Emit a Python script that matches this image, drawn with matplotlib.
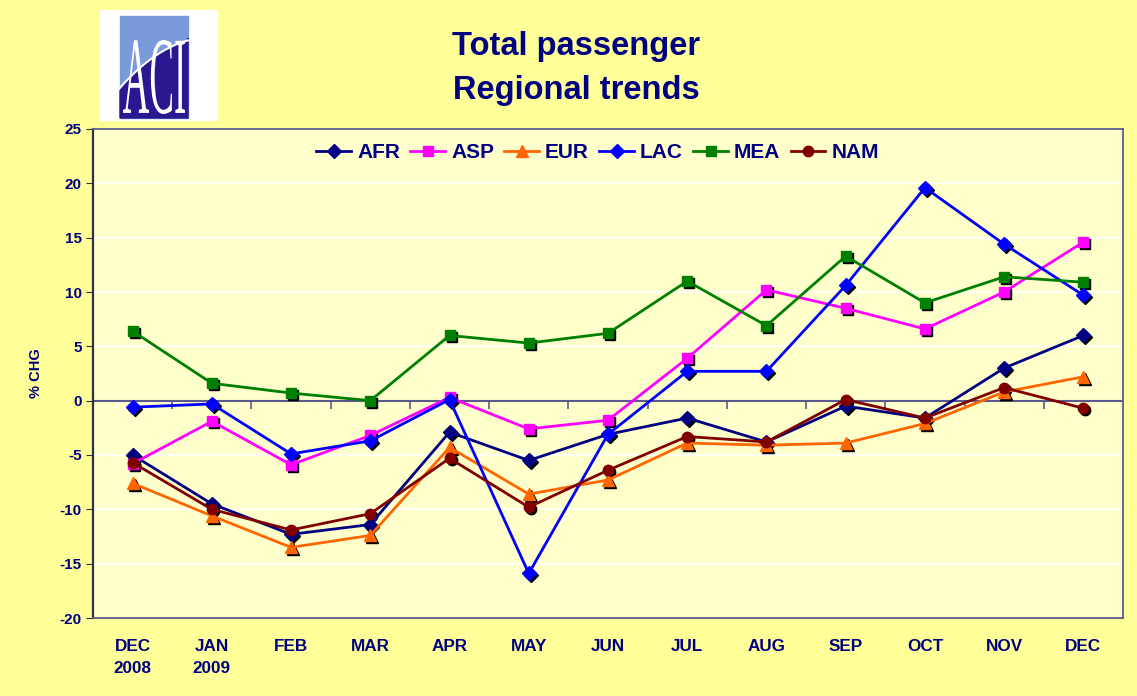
import numpy as np
import matplotlib
matplotlib.use("Agg")
import matplotlib.pyplot as plt
import matplotlib.transforms as mtransforms
from matplotlib.patches import Rectangle, Polygon, PathPatch
from matplotlib.textpath import TextPath
from matplotlib.font_manager import FontProperties

plt.rcParams['font.family'] = ['Liberation Sans', 'DejaVu Sans']

# ---------------- data ----------------
months = ["DEC\n2008", "JAN\n2009", "FEB", "MAR", "APR", "MAY", "JUN",
          "JUL", "AUG", "SEP", "OCT", "NOV", "DEC"]
AFR = [-5.0, -9.5, -12.3, -11.4, -2.9, -5.5, -3.1, -1.6, -3.8, -0.5, -1.6, 3.0, 6.0]
ASP = [-5.8, -1.9, -5.9, -3.2, 0.3, -2.6, -1.8, 3.9, 10.2, 8.5, 6.6, 10.0, 14.6]
EUR = [-7.6, -10.6, -13.5, -12.4, -4.3, -8.6, -7.3, -3.9, -4.1, -3.9, -2.1, 0.8, 2.2]
LAC = [-0.6, -0.3, -4.9, -3.7, 0.1, -15.9, -3.1, 2.7, 2.7, 10.6, 19.6, 14.4, 9.7]
MEA = [6.4, 1.6, 0.7, 0.0, 6.0, 5.3, 6.2, 11.0, 6.9, 13.3, 9.0, 11.4, 10.9]
NAM = [-5.7, -10.0, -11.9, -10.4, -5.3, -9.8, -6.4, -3.3, -3.8, 0.1, -1.6, 1.2, -0.7]
series_names = ["AFR", "ASP", "EUR", "LAC", "MEA", "NAM"]
series_vals = [AFR, ASP, EUR, LAC, MEA, NAM]
colors = ["#000080", "#FF00FF", "#FF6600", "#0000FF", "#008000", "#800000"]
markers = ["D", "s", "^", "D", "s", "o"]
msizes = [7, 7.5, 8, 7, 7.5, 7.5]
yticks = list(range(-20, 30, 5))

NAVY = "#000080"
W, H = 1137, 696
fig = plt.figure(figsize=(W / 100, H / 100), dpi=100, facecolor="#FFFF99")

ax = fig.add_axes([93 / W, 1 - 618 / H, 1030 / W, 489 / H])
ax.set_facecolor("#FFFFCC")
x = np.arange(len(months))
ax.set_xlim(-0.5, len(months) - 0.5)
ax.set_ylim(-20, 25)

shadow = mtransforms.offset_copy(ax.transData, fig=fig, x=2, y=-2, units="dots")
handles = []
for name, vals, c, m, ms in zip(series_names, series_vals, colors, markers, msizes):
    ax.plot(x, vals, linestyle="none", marker=m, markersize=ms, color="black",
            transform=shadow, zorder=3)
    h, = ax.plot(x, vals, color=c, lw=2.0, marker=m, markersize=ms,
                 markerfacecolor=c, markeredgecolor=c, zorder=4, label=name)
    handles.append(h)

# grid & axes
ax.set_yticks(yticks)
ax.set_yticklabels([str(v) for v in yticks], fontsize=11, fontweight="bold", color=NAVY)
ax.yaxis.grid(True, color="white", lw=1.2)
ax.set_axisbelow(True)
ax.tick_params(axis="y", direction="out", length=5, color="#303040", pad=3)
ax.set_xticks(x)
ax.set_xticklabels(months, fontsize=12.3, fontweight="bold", color=NAVY, linespacing=1.6)
ax.tick_params(axis="x", length=0, pad=15)
for s in ax.spines.values():
    s.set_color("#5a5a8c")
    s.set_linewidth(1.3)
ax.spines["left"].set_color("#303040")
ax.spines["left"].set_linewidth(1.6)

# zero axis with category-boundary ticks
ax.axhline(0, color="#5a5a8c", lw=1.5, zorder=2)
zero_frac = (0 - (-20)) / 45.0
sec = ax.secondary_xaxis(zero_frac)
sec.set_xticks(np.arange(0.5, len(months) - 1, 1.0))
sec.set_xticklabels([])
sec.tick_params(axis="x", direction="out", length=6, color="#5a5a8c", width=1.2)
sec.spines["bottom"].set_visible(False)

ax.set_ylabel("% CHG", fontsize=10.5, fontweight="bold", color=NAVY, labelpad=12)

leg = ax.legend(handles=handles, loc="center", bbox_to_anchor=(0.49, 0.952), ncol=6,
                frameon=False, handlelength=1.65, handletextpad=0.3, columnspacing=0.5,
                prop={"size": 15, "weight": "bold"})
for t in leg.get_texts():
    t.set_color(NAVY)

# title
fig.text(576 / W, 1 - 47 / H, "Total passenger", ha="center", va="center",
         fontsize=23.5, fontweight="bold", color=NAVY)
fig.text(576 / W, 1 - 90 / H, "Regional trends", ha="center", va="center",
         fontsize=23.5, fontweight="bold", color=NAVY)

# logo
lax = fig.add_axes([100 / W, 1 - 121 / H, 118 / W, 111 / H])
lax.set_xlim(0, 118)
lax.set_ylim(111, 0)
lax.axis("off")
lax.add_patch(Rectangle((0, 0), 118, 111, color="white"))
lax.add_patch(Rectangle((20, 6), 68, 102, color="#7A9ADB"))
t = np.linspace(0, 1, 40)
cx = 5 + 102 * t
cy = 100 - 72 * np.sin(t * np.pi / 2) ** 0.8
poly_x = list(np.clip(cx, 20, 88)) + [88, 20]
poly_y = list(cy) + [108, 108]
lax.add_patch(Polygon(list(zip(poly_x, poly_y)), closed=True, color="#2A1890"))
lax.plot(cx, cy, color="white", lw=1.5)
tp = TextPath((0, 0), "ACI", size=10, prop=FontProperties(family="Liberation Serif"))
bb = tp.get_extents()
tx0, tx1, ty0, ty1 = 23, 85, 30, 104
tr = (mtransforms.Affine2D()
      .translate(-bb.x0, -bb.y0)
      .scale((tx1 - tx0) / bb.width, -(ty1 - ty0) / bb.height)
      .translate(tx0, ty1))
lax.add_patch(PathPatch(tr.transform_path(tp), color="white", lw=0, transform=lax.transData))

fig.savefig("out.png", dpi=100, facecolor=fig.get_facecolor())
